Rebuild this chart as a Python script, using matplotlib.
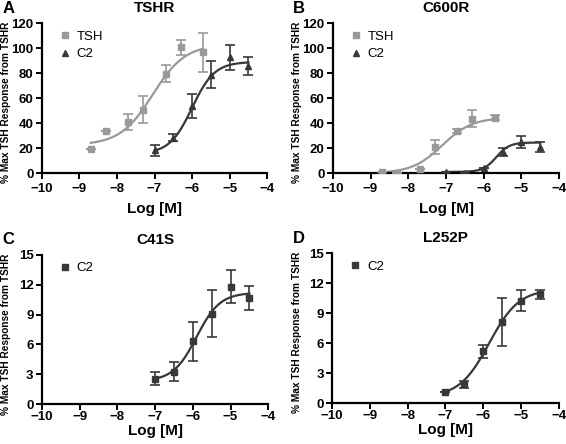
import numpy as np
import matplotlib.pyplot as plt

plt.rcParams['font.family'] = ['Liberation Sans', 'DejaVu Sans']

# ---- data ----
# panel A: TSHR
a_tsh_x = [-8.7, -8.3, -7.7, -7.3, -6.7, -6.3, -5.7]
a_tsh_y = [19.7, 33.8, 40.7, 50.9, 79.5, 100.5, 96.5]
a_tsh_err = [0, 0, 6.3, 10.5, 6.8, 5.8, 15.5]
a_c2_x = [-7.0, -6.5, -6.0, -5.5, -5.0, -4.5]
a_c2_y = [18.4, 28.5, 53.5, 78.8, 92.5, 85.7]
a_c2_err = [4.5, 3.0, 9.4, 10.7, 9.8, 7.4]

# panel B: C600R
b_tsh_x = [-8.7, -8.3, -7.7, -7.3, -6.7, -6.3, -5.7]
b_tsh_y = [1.0, 0.5, 3.2, 21.0, 33.8, 43.5, 44.5]
b_tsh_err = [0, 0, 0, 5.8, 1.8, 6.7, 2.0]
b_c2_x = [-7.0, -6.5, -6.0, -5.5, -5.0, -4.5]
b_c2_y = [1.0, 0.5, 4.0, 17.0, 25.0, 21.0]
b_c2_err = [0, 0, 0, 3.3, 5.0, 4.0]

# panel C: C41S
c_c2_x = [-7.0, -6.5, -6.0, -5.5, -5.0, -4.5]
c_c2_y = [2.55, 3.25, 6.32, 9.08, 11.8, 10.65]
c_c2_err = [0.65, 0.95, 1.95, 2.35, 1.65, 1.2]

# panel D: L252P
d_c2_x = [-7.0, -6.5, -6.0, -5.5, -5.0, -4.5]
d_c2_y = [1.12, 1.88, 5.18, 8.15, 10.25, 10.9]
d_c2_err = [0, 0.33, 0.62, 2.4, 1.03, 0.45]

# fitted curves (bottom, top, logEC50, hill)
fit_a_tsh = (22.5, 103, -7.05, 1.0)
fit_a_c2 = (15.5, 89, -6.0, 1.45)
fit_b_tsh = (0, 44.5, -7.1, 1.09)
fit_b_c2 = (1.0, 24.5, -5.67, 2.5)
fit_c_c2 = (2.3, 11.2, -5.9, 1.4)
fit_d_c2 = (0.6, 11.4, -5.84, 1.1)

light = '#999999'
dark = '#383838'


def sigmoid(x, p):
    bot, top, ec, h = p
    return bot + (top - bot) / (1 + 10 ** ((ec - x) * h))


def style_ax(ax, ymax, ystep, xpad, xlpad):
    ax.spines['top'].set_visible(False)
    ax.spines['right'].set_visible(False)
    ax.spines['left'].set_linewidth(1.6)
    ax.spines['bottom'].set_linewidth(1.6)
    ax.set_xlim(-10, -4)
    ax.set_ylim(0, ymax)
    ax.set_xticks(np.arange(-10, -3, 1))
    ax.set_yticks(np.arange(0, ymax + 0.1, ystep))
    ax.tick_params(direction='out', length=4, width=1.4, labelsize=9.5, pad=2)
    ax.tick_params(axis='x', pad=xpad)
    for lab in ax.get_xticklabels() + ax.get_yticklabels():
        lab.set_fontweight('bold')
    ax.set_xlabel('Log [M]', fontsize=11, fontweight='bold', labelpad=xlpad)
    ax.set_ylabel('% Max TSH Response from TSHR', fontsize=7.3, fontweight='bold')
    ax.yaxis.set_label_coords(-0.135, 0.47)


def series(ax, x, y, err, p, color, marker, ms, label):
    xs = np.linspace(x[0], x[-1], 200)
    ax.plot(xs, sigmoid(xs, p), color=color, lw=1.6, zorder=2)
    ax.errorbar(x, y, yerr=err, fmt=marker, color=color, ms=ms, elinewidth=1.2,
                capsize=3.5, capthick=1.2, label=label, zorder=3)


fig = plt.figure(figsize=(5.66, 4.44), dpi=100)
axA = fig.add_axes([0.074, 0.610, 0.398, 0.338])
axB = fig.add_axes([0.588, 0.610, 0.400, 0.338])
axC = fig.add_axes([0.074, 0.090, 0.400, 0.336])
axD = fig.add_axes([0.587, 0.092, 0.400, 0.338])

series(axA, a_tsh_x, a_tsh_y, a_tsh_err, fit_a_tsh, light, 's', 4.5, 'TSH')
series(axA, a_c2_x, a_c2_y, a_c2_err, fit_a_c2, dark, '^', 5, 'C2')
series(axB, b_tsh_x, b_tsh_y, b_tsh_err, fit_b_tsh, light, 's', 4.5, 'TSH')
series(axB, b_c2_x, b_c2_y, b_c2_err, fit_b_c2, dark, '^', 5, 'C2')
series(axC, c_c2_x, c_c2_y, c_c2_err, fit_c_c2, dark, 's', 4.5, 'C2')
series(axD, d_c2_x, d_c2_y, d_c2_err, fit_d_c2, dark, 's', 4.5, 'C2')

panels = [(axA, 'A', 'TSHR', 120, 20, 3, 5), (axB, 'B', 'C600R', 120, 20, 3, 5),
          (axC, 'C', 'C41S', 15, 3, 1, 0.5), (axD, 'D', 'L252P', 15, 3, 1, 0.5)]
for ax, letter, title, ymax, ystep, xpad, xlpad in panels:
    style_ax(ax, ymax, ystep, xpad, xlpad)
    ax.set_title(title, fontsize=11, fontweight='bold', pad=8)
    ax.text(-0.175, 1.15, letter, transform=ax.transAxes, fontsize=12,
            fontweight='bold', va='top', ha='left')
    h, l = ax.get_legend_handles_labels()
    h = [hh[0] for hh in h]
    ax.legend(h, l, loc='upper left', bbox_to_anchor=(0.02, 1.03), frameon=False,
              fontsize=9.5, handlelength=1.0, handletextpad=0.4, labelspacing=0.4)

fig.savefig('out.png', dpi=100)
